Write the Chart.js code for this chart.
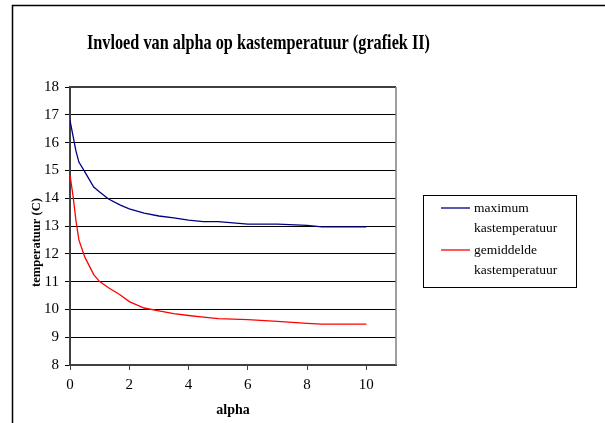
<!DOCTYPE html>
<html>
<head>
<meta charset="utf-8">
<script src="https://cdn.jsdelivr.net/npm/chart.js@4/dist/chart.umd.min.js"></script>
<style>
  html, body { margin: 0; padding: 0; background: #fff; }
  #wrap { width: 605px; height: 423px; position: relative; }
</style>
</head>
<body>
<div id="wrap"><canvas id="c" width="605" height="423"></canvas></div>
<script>
// alpha values (x) and the two temperature curves
const alpha = [0, 0.1, 0.2, 0.3, 0.5, 0.8, 1, 1.3, 1.7, 2, 2.5, 3, 3.5, 4, 4.5, 5, 6, 7, 8, 8.5, 9, 10];
const maxTemp = [16.8, 16.25, 15.7, 15.3, 14.95, 14.4, 14.22, 13.97, 13.75, 13.62, 13.46, 13.36, 13.29, 13.21, 13.16, 13.16, 13.07, 13.07, 13.02, 12.97, 12.97, 12.97];
const meanTemp = [14.83, 14.1, 13.2, 12.5, 11.88, 11.25, 11.0, 10.78, 10.52, 10.28, 10.05, 9.95, 9.85, 9.78, 9.72, 9.67, 9.63, 9.57, 9.5, 9.47, 9.47, 9.47];
const xTicks = [0, 2, 4, 6, 8, 10];
const yTicks = [8, 9, 10, 11, 12, 13, 14, 15, 16, 17, 18];
const seriesNames = [['maximum', 'kastemperatuur'], ['gemiddelde', 'kastemperatuur']];
const titleText = 'Invloed van alpha op kastemperatuur (grafiek II)';
const xTitle = 'alpha';
const yTitle = 'temperatuur (C)';

const SERIF = '"Liberation Serif", "DejaVu Serif", serif';

function pts(ys) { return alpha.map((a, i) => ({ x: a, y: ys[i] })); }

// draws text squeezed to a given width
function fitText(ctx, txt, x, y, w) {
  const m = ctx.measureText(txt).width;
  const s = Math.min(1, w / m);
  ctx.save();
  ctx.translate(x, y);
  ctx.scale(s, 1);
  ctx.fillText(txt, 0, 0);
  ctx.restore();
}

const decor = {
  id: 'decor',
  beforeDraw(chart) {
    const ctx = chart.ctx;
    ctx.save();
    ctx.fillStyle = '#fff';
    ctx.fillRect(0, 0, chart.width, chart.height);
    // outer frame
    ctx.strokeStyle = '#000';
    ctx.lineWidth = 1.5;
    ctx.beginPath();
    ctx.moveTo(12.5, chart.height + 2);
    ctx.lineTo(12.5, 5.5);
    ctx.lineTo(chart.width + 2, 5.5);
    ctx.stroke();
    ctx.restore();
  },
  afterDatasetsDraw(chart) {
    const ctx = chart.ctx;
    const a = chart.chartArea;
    ctx.save();
    // top and right edges of the plot area
    ctx.strokeStyle = '#404040';
    ctx.lineWidth = 2;
    ctx.beginPath();
    ctx.moveTo(a.left, a.top);
    ctx.lineTo(a.right, a.top);
    ctx.stroke();
    ctx.strokeStyle = '#808080';
    ctx.lineWidth = 1.5;
    ctx.beginPath();
    ctx.moveTo(a.right, a.top);
    ctx.lineTo(a.right, a.bottom);
    ctx.stroke();

    // title
    ctx.fillStyle = '#000';
    ctx.textBaseline = 'alphabetic';
    ctx.textAlign = 'left';
    ctx.font = 'bold 22px ' + SERIF;
    fitText(ctx, titleText, 87, 49, 343);

    // y axis title
    ctx.font = 'bold 13px ' + SERIF;
    ctx.save();
    ctx.translate(40, 287);
    ctx.rotate(-Math.PI / 2);
    fitText(ctx, yTitle, 0, 0, 89);
    ctx.restore();

    // x axis title
    ctx.font = 'bold 14px ' + SERIF;
    ctx.textAlign = 'center';
    ctx.fillText(xTitle, (a.left + a.right) / 2, 414);

    // legend
    ctx.strokeStyle = '#000';
    ctx.lineWidth = 1;
    ctx.strokeRect(423.5, 195.5, 153, 92);
    ctx.textAlign = 'left';
    ctx.font = '13.5px ' + SERIF;
    const rows = [208, 250];
    chart.data.datasets.forEach((ds, i) => {
      const y = rows[i];
      ctx.strokeStyle = ds.borderColor;
      ctx.lineWidth = 1.3;
      ctx.beginPath();
      ctx.moveTo(441, y);
      ctx.lineTo(470, y);
      ctx.stroke();
      ctx.fillStyle = '#000';
      ctx.fillText(seriesNames[i][0], 474, y + 4);
      ctx.fillText(seriesNames[i][1], 474, y + 24);
    });
    ctx.restore();
  }
};

new Chart(document.getElementById('c'), {
  type: 'line',
  data: {
    datasets: [
      { label: seriesNames[0].join(' '), data: pts(maxTemp), borderColor: '#000080', borderWidth: 1.3, pointRadius: 0, tension: 0, fill: false },
      { label: seriesNames[1].join(' '), data: pts(meanTemp), borderColor: '#ff0000', borderWidth: 1.3, pointRadius: 0, tension: 0, fill: false }
    ]
  },
  options: {
    responsive: false,
    animation: false,
    devicePixelRatio: 1,
    layout: { padding: { top: 87, right: 209, left: 0, bottom: 0 } },
    plugins: { legend: { display: false }, title: { display: false }, tooltip: { enabled: false } },
    scales: {
      x: {
        type: 'linear',
        min: 0, max: 11,
        afterBuildTicks: s => { s.ticks = xTicks.map(v => ({ value: v })); },
        afterFit: s => { s.height = 58; },
        grid: { drawOnChartArea: false, drawTicks: true, tickLength: 5, color: '#404040' },
        border: { display: true, color: '#404040', width: 2 },
        ticks: { color: '#000', font: { family: SERIF, size: 15 }, padding: 6, maxRotation: 0 }
      },
      y: {
        min: 8, max: 18,
        afterBuildTicks: s => { s.ticks = yTicks.map(v => ({ value: v })); },
        afterFit: s => { s.width = 70; },
        grid: { color: '#000', lineWidth: 1, drawTicks: true, tickLength: 5 },
        border: { display: true, color: '#404040', width: 2 },
        ticks: { color: '#000', font: { family: SERIF, size: 15 }, padding: 6 }
      }
    }
  },
  plugins: [decor]
});
</script>
</body>
</html>
